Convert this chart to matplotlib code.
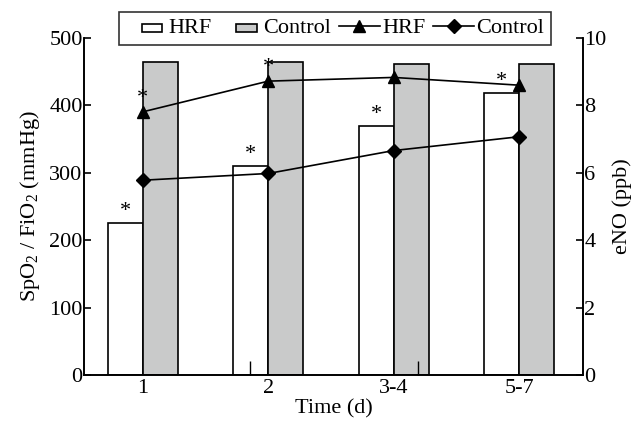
import matplotlib
matplotlib.use("Agg")
import matplotlib.pyplot as plt
from matplotlib.patches import Patch, Rectangle
from matplotlib.lines import Line2D
from matplotlib.legend_handler import HandlerPatch
import numpy as np

categories = ["1", "2", "3-4", "5-7"]
hrf_ratio = [225, 310, 370, 418]
ctrl_ratio = [465, 465, 461, 462]
hrf_eno = [7.81, 8.72, 8.83, 8.60]
ctrl_eno = [5.78, 5.98, 6.66, 7.07]
bar_star_groups = [0, 1, 2, 3]
line_star_groups = [0, 1]
stray_xticks = [0.855, 2.19]

plt.rcParams['font.family'] = ['Liberation Serif', 'DejaVu Serif']
plt.rcParams['mathtext.fontset'] = 'custom'
plt.rcParams['mathtext.rm'] = 'Liberation Serif'
plt.rcParams['mathtext.it'] = 'Liberation Serif:italic'

FS = 16
fig = plt.figure(figsize=(6.38, 4.26), dpi=100)
ax = fig.add_axes([84/638, 1-375/426, (583-84)/638, (375-38)/426])
ax.set_axisbelow(False)
x = np.arange(len(categories))
w = 0.28
gray = '#c9caca'
ax.bar(x - w/2, hrf_ratio, w, color='white', edgecolor='black', linewidth=1.2, zorder=2)
ax.bar(x + w/2, ctrl_ratio, w, color=gray, edgecolor='black', linewidth=1.2, zorder=2)
ax.set_xlim(-0.47, 3.51)
ax.set_ylim(0, 500)
ax.set_yticks([0, 100, 200, 300, 400, 500])
ax.set_xticks(x)
ax.set_xticklabels(categories)
ax.set_xticks(stray_xticks, minor=True)
ax.spines['top'].set_visible(False)
for s in ax.spines.values():
    s.set_linewidth(1.2)
ax.tick_params(axis='y', direction='in', length=5, width=1.2, labelsize=FS, pad=1)
ax.tick_params(axis='x', which='major', length=0, labelsize=FS, pad=3)
ax.tick_params(axis='x', which='minor', direction='in', length=10, width=1.0)
ax.set_xlabel('Time (d)', fontsize=FS, labelpad=1)
ax.set_ylabel('SpO$_2$ / FiO$_2$ (mmHg)', fontsize=FS, labelpad=5)

for i in bar_star_groups:
    ax.text(x[i] - w/2, hrf_ratio[i] + 3, '*', ha='center', va='bottom', fontsize=FS)

ax2 = ax.twinx()
ax2.set_ylim(0, 10)
ax2.set_yticks([0, 2, 4, 6, 8, 10])
ax2.spines['top'].set_visible(False)
for s in ax2.spines.values():
    s.set_linewidth(1.2)
ax2.tick_params(axis='y', direction='in', length=5, width=1.2, labelsize=FS, pad=1)
ax2.plot(x, hrf_eno, color='black', marker='^', markersize=8, linewidth=1.2, zorder=3)
ax2.plot(x, ctrl_eno, color='black', marker='D', markersize=7, linewidth=1.2, zorder=3)
ax2.set_ylabel('eNO (ppb)', fontsize=FS, labelpad=4)
for i in line_star_groups:
    ax2.text(x[i], hrf_eno[i] + 0.12, '*', ha='center', va='bottom', fontsize=FS)


def small_rect(legend, orig_handle, xdescent, ydescent, width, height, fontsize):
    rw = width * 0.5
    rh = 6.0
    return Rectangle((xdescent + width - rw - 3, ydescent + height/2 - rh/2), rw, rh)

handles = [Patch(facecolor='white', edgecolor='black', linewidth=1.2, label='HRF'),
           Patch(facecolor=gray, edgecolor='black', linewidth=1.2, label='Control'),
           Line2D([], [], color='black', marker='^', markersize=8, linewidth=1.2, label='HRF'),
           Line2D([], [], color='black', marker='D', markersize=7, linewidth=1.2, label='Control')]
leg = fig.legend(handles=handles, loc='upper center', bbox_to_anchor=(335/638, 1-12/426),
                 ncol=4, fontsize=FS, frameon=True, fancybox=False, edgecolor='black',
                 handlelength=1.85, handleheight=0.5, handletextpad=0.1, columnspacing=0.35,
                 borderpad=0.3, borderaxespad=0,
                 handler_map={Patch: HandlerPatch(patch_func=small_rect)})
leg.get_frame().set_linewidth(1.2)

fig.savefig('out.png', dpi=100)
